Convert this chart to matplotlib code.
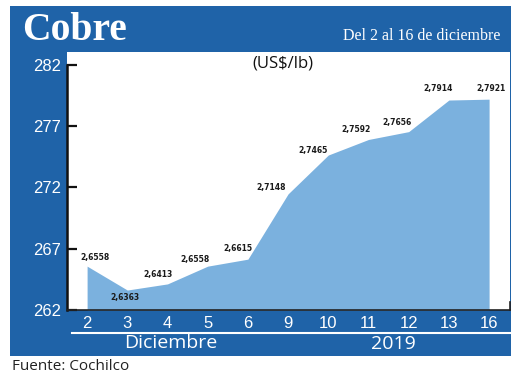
import matplotlib
matplotlib.use("Agg")
import matplotlib.pyplot as plt
from matplotlib.patches import Rectangle
from matplotlib.lines import Line2D
from matplotlib import font_manager as fm

# ---- data ----
days = ["2", "3", "4", "5", "6", "9", "10", "11", "12", "13", "16"]
prices = [2.6558, 2.6363, 2.6413, 2.6558, 2.6615, 2.7148, 2.7465, 2.7592, 2.7656, 2.7914, 2.7921]
yticks = [262, 267, 272, 277, 282]
title = "Cobre"
subtitle = "Del 2 al 16 de diciembre"
unit = "(US$/lb)"
month_label = "Diciembre"
year_label = "2019"
source = "Fuente: Cochilco"

# label offsets in pixels (dx, dy up-positive) -- styling only
label_offsets = [(8, 9), (-2, -7), (-9, 9), (-13, 7), (-10, 11), (-17, 6),
                 (-15, 5), (-12, 10), (-12, 9), (-11, 12), (2, 11)]

BLUE = "#1f63a8"
FILL = "#7bb1de"
W, H = 520, 378

# look for a condensed bold font for the value labels
cond = None
for f in fm.fontManager.ttflist:
    nm = f.name.lower()
    st = str(f.stretch).lower()
    if ("narrow" in nm or "condensed" in nm or st in ("condensed", "semi-condensed", "extra-condensed")) \
            and str(f.weight) in ("bold", "700", "600", "semibold") and "mono" not in nm:
        cond = f.fname
        break
if cond:
    lab_props = fm.FontProperties(fname=cond, size=8.5)
else:
    lab_props = fm.FontProperties(family=["Roboto", "DejaVu Sans"], weight="bold", size=8.5)

fig = plt.figure(figsize=(W / 100, H / 100), dpi=100)

def fx(px):
    return px / W

def fy(py):
    return 1 - py / H

# size the value labels so that "2,6558" is about 29 px wide
renderer = fig.canvas.get_renderer()
probe = fig.text(0, 0, "2,6558", fontproperties=lab_props)
wpx = probe.get_window_extent(renderer).width
probe.remove()
lab_props.set_size(max(5.5, min(8.5, 8.5 * 29.5 / wpx)))

# blue frame (header, left column, bottom band)
fig.patches.append(Rectangle((fx(10), fy(356)), fx(511) - fx(10), fy(6) - fy(356),
                             transform=fig.transFigure, facecolor=BLUE, edgecolor="none", zorder=-5))

ax = fig.add_axes([fx(67), fy(310), fx(510) - fx(67), fy(52) - fy(310)])
ax.set_zorder(2)
ax.set_facecolor("white")

vals = [p * 100 for p in prices]
xs = list(range(len(days)))
ax.fill_between(xs, 262, vals, color=FILL, linewidth=0, zorder=1)

ax.set_ylim(262, 283.06)
ax.set_xlim(-0.5, 10.52)
ax.set_yticks(yticks)
ax.set_yticklabels([str(t) for t in yticks])
ax.set_xticks(xs)
ax.set_xticklabels(days)

for s in ["top", "right"]:
    ax.spines[s].set_visible(False)
ax.spines["left"].set_bounds(262, 282)
ax.spines["left"].set_linewidth(1.8)
ax.spines["left"].set_color("#111111")
ax.spines["bottom"].set_linewidth(1.2)
ax.spines["bottom"].set_color("#222222")
ax.spines["bottom"].set_zorder(3)

tick_font = ["Liberation Sans", "DejaVu Sans"]
ax.tick_params(axis="y", direction="in", length=7, width=1.6, color="#111111",
               labelcolor="white", labelsize=12, pad=4)
ax.tick_params(axis="x", length=0, labelcolor="white", labelsize=12, pad=4)
for lbl in ax.get_yticklabels() + ax.get_xticklabels():
    lbl.set_fontfamily(tick_font)

# data labels
for x, v, p, (dx, dy) in zip(xs, vals, prices, label_offsets):
    ax.annotate(f"{p:.4f}".replace(".", ","), (x, v), xytext=(dx * 0.72, dy * 0.72),
                textcoords="offset points", ha="center", va="center",
                fontproperties=lab_props, color="#1a1a1a", zorder=4)

# small end tick at right of x-axis
ax.plot([1, 1], [0, 0.03], transform=ax.transAxes, color="#222222", lw=1.2, clip_on=False)

# header texts
fig.text(fx(22), fy(31), title, color="white", fontsize=28.5, fontweight="bold",
         family=["Liberation Serif", "DejaVu Serif"], ha="left", va="center")
fig.text(fx(500), fy(36), subtitle, color="white", fontsize=11.5,
         family=["Liberation Serif", "DejaVu Serif"], ha="right", va="center")
fig.text(fx(283), fy(63), unit, color="#111111", fontsize=12,
         family=["Open Sans", "DejaVu Sans"], ha="center", va="center")

# bottom band
fig.lines.append(Line2D([fx(72), fx(511)], [fy(333), fy(333)], transform=fig.transFigure,
                        color="white", lw=1.5))
fig.text(fx(171), fy(343), month_label, color="white", fontsize=14,
         family=["Open Sans", "DejaVu Sans"], ha="center", va="center")
fig.text(fx(393), fy(344), year_label, color="white", fontsize=14,
         family=["Open Sans", "DejaVu Sans"], ha="center", va="center")

fig.text(fx(12), fy(367), source, color="#222222", fontsize=11,
         family=["Open Sans", "DejaVu Sans"], ha="left", va="center")

fig.savefig("out.png", dpi=100)
